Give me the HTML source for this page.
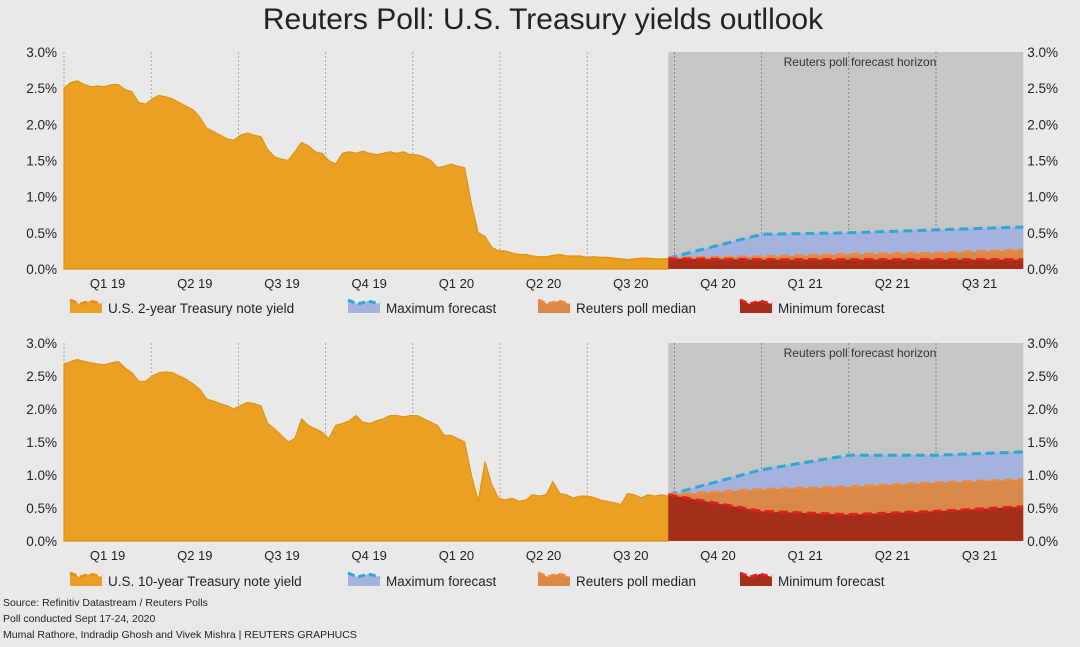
<!DOCTYPE html>
<html><head><meta charset="utf-8">
<style>
html,body{margin:0;padding:0;background:#e9e9e9;}
body{width:1080px;height:642px;overflow:hidden;font-family:"Liberation Sans",sans-serif;}
svg text{font-family:"Liberation Sans",sans-serif;}
</style></head>
<body>
<svg id="chart" width="1080" height="642" viewBox="0 0 1080 642" xmlns="http://www.w3.org/2000/svg">
<text x="543" y="29" text-anchor="middle" font-size="30" fill="#222">Reuters Poll: U.S. Treasury yields outllook</text>
<text x="3" y="606" font-size="10.5" fill="#222">Source: Refinitiv Datastream / Reuters Polls</text>
<text x="3" y="622" font-size="10.5" fill="#222">Poll conducted Sept 17-24, 2020</text>
<text x="3" y="638" font-size="10.5" fill="#222">Mumal Rathore, Indradip Ghosh and Vivek Mishra | REUTERS GRAPHUCS</text>
</svg>
<script>
const quarterLabels=["Q1 19","Q2 19","Q3 19","Q4 19","Q1 20","Q2 20","Q3 20","Q4 20","Q1 21","Q2 21","Q3 21"];
const yTicks=[0,0.5,1.0,1.5,2.0,2.5,3.0];
const twoYear=[2.5,2.58,2.6,2.55,2.52,2.53,2.52,2.55,2.55,2.48,2.45,2.3,2.28,
2.35,2.4,2.38,2.35,2.3,2.25,2.2,2.1,1.95,1.9,1.85,1.8,1.78,
1.85,1.88,1.85,1.83,1.65,1.55,1.52,1.5,1.62,1.75,1.7,1.62,1.6,
1.5,1.45,1.6,1.62,1.6,1.63,1.6,1.58,1.6,1.62,1.6,1.62,1.58,
1.58,1.55,1.5,1.4,1.42,1.45,1.42,1.4,0.9,0.5,0.45,0.3,0.25,
0.25,0.22,0.2,0.2,0.18,0.17,0.17,0.19,0.2,0.18,0.18,0.18,0.16,
0.17,0.16,0.16,0.15,0.14,0.13,0.14,0.15,0.15,0.14,0.14,0.14];
const tenYear=[2.68,2.72,2.75,2.72,2.7,2.68,2.67,2.7,2.72,2.62,2.55,2.42,2.42,
2.5,2.55,2.56,2.55,2.5,2.45,2.38,2.3,2.15,2.12,2.08,2.05,2.0,
2.05,2.1,2.08,2.05,1.78,1.7,1.6,1.5,1.55,1.85,1.75,1.7,1.65,
1.55,1.75,1.78,1.82,1.9,1.8,1.78,1.82,1.85,1.9,1.9,1.88,1.9,
1.9,1.85,1.8,1.75,1.6,1.6,1.55,1.5,1.0,0.6,1.2,0.85,0.65,
0.62,0.65,0.6,0.62,0.7,0.68,0.7,0.9,0.72,0.7,0.65,0.68,0.68,
0.66,0.62,0.6,0.58,0.55,0.72,0.7,0.65,0.7,0.68,0.7,0.68];
const forecastQ=[6.93,8,9,10,11];
const twoMax=[0.15,0.48,0.5,0.54,0.58];
const twoMed=[0.15,0.17,0.2,0.22,0.26];
const twoMin=[0.14,0.13,0.13,0.13,0.13];
const tenMax=[0.7,1.08,1.3,1.3,1.35];
const tenMed=[0.7,0.78,0.82,0.88,0.93];
const tenMin=[0.7,0.45,0.4,0.45,0.52];

const NS="http://www.w3.org/2000/svg";
const svg=document.getElementById('chart');
function mk(tag,attrs,parent){const e=document.createElementNS(NS,tag);for(const k in attrs)e.setAttribute(k,attrs[k]);(parent||svg).appendChild(e);return e;}
const X0=64,QW=87.2,HORIZON=6.93;
function xq(q){return X0+q*QW;}

function drawPanel(cfg){
  const {top,bottom,hist,fmax,fmed,fmin,label,legendY,name}=cfg;
  const y=v=>bottom-(v/3)*(bottom-top);
  const g=mk('g',{});
  
  
  const sh=mk('rect',{x:xq(HORIZON),y:top,width:xq(11)-xq(HORIZON),height:bottom-top,fill:'#c6c6c6'},g);
  
  
  const ht=mk('text',{x:860,y:top+14,'font-size':12,'text-anchor':'middle',fill:'#333'},g);
  ht.textContent='Reuters poll forecast horizon';
  
  
  for(let k=0;k<=10;k++){
    const gx=xq(k);
    const l=mk('line',{x1:gx,x2:gx,y1:top,y2:bottom,stroke:k>=7?'#777':'#999','stroke-width':0.8,'stroke-dasharray':'2,2'},g);
    
    
  }
  const n=hist.length;
  const hx=i=>xq(i*HORIZON/(n-1));
  let d=`M${hx(0)},${bottom}`;
  hist.forEach((v,i)=>{d+=` L${hx(i).toFixed(1)},${y(v).toFixed(1)}`;});
  d+=` L${hx(n-1)},${bottom} Z`;
  const ha=mk('path',{d,fill:'#e9a023',stroke:'#dd9318','stroke-width':1.2},g);
  
  
  const series=[[fmax,'#a4b3dd','#2aa8d8','maximum-forecast'],[fmed,'#d98848','#f0883a','median-forecast'],[fmin,'#a52e1b','#e31e1e','minimum-forecast']];
  series.forEach(([arr,fill,stroke,nm])=>{
    let a=`M${xq(forecastQ[0])},${bottom}`;let ln='';
    arr.forEach((v,i)=>{a+=` L${xq(forecastQ[i]).toFixed(1)},${y(v).toFixed(1)}`;ln+=(i?' L':'M')+xq(forecastQ[i]).toFixed(1)+','+y(v).toFixed(1);});
    a+=` L${xq(forecastQ[forecastQ.length-1])},${bottom} Z`;
    const ar=mk('path',{d:a,fill},g);
    
    
    const li=mk('path',{d:ln,fill:'none',stroke,'stroke-width':3,'stroke-dasharray':'9,5'},g);
    
    
  });
  yTicks.forEach(t=>{
    const a=mk('text',{x:57,y:y(t)+5,'font-size':13.5,'text-anchor':'end',fill:'#222'},g);
    a.textContent=t.toFixed(1)+'%';
    
    
    const b=mk('text',{x:1058,y:y(t)+5,'font-size':13.5,'text-anchor':'end',fill:'#222'},g);
    b.textContent=t.toFixed(1)+'%';
    
    
  });
  quarterLabels.forEach((q,k)=>{
    const t=mk('text',{x:xq(k+0.5),y:bottom+19,'font-size':13,'text-anchor':'middle',fill:'#222'},g);
    t.textContent=q;
    
    
  });
  const items=[[label,'#e9a023','#dd9318',70],['Maximum forecast','#a4b3dd','#2aa8d8',348],['Reuters poll median','#d98848','#f0883a',538],['Minimum forecast','#a52e1b','#e31e1e',740]];
  items.forEach(([txt,fill,stroke,lx])=>{
    const ly=legendY;
    const ic=mk('path',{d:`M${lx},${ly-8} L${lx+10},${ly-4} L${lx+20},${ly-7} L${lx+32},${ly-4} L${lx+32},${ly+5} L${lx},${ly+5} Z`,fill},g);
    
    
    const il=mk('path',{d:`M${lx},${ly-8} L${lx+10},${ly-4} L${lx+20},${ly-7} L${lx+32},${ly-4}`,fill:'none',stroke,'stroke-width':3,'stroke-dasharray':'7,4'},g);
    
    
    const t=mk('text',{x:lx+38,y:ly+5,'font-size':13.5,fill:'#222'},g);
    t.textContent=txt;
    
    
  });
}
drawPanel({top:52,bottom:269,hist:twoYear,fmax:twoMax,fmed:twoMed,fmin:twoMin,label:'U.S. 2-year Treasury note yield',legendY:308,name:'two-year-panel'});
drawPanel({top:343,bottom:541,hist:tenYear,fmax:tenMax,fmed:tenMed,fmin:tenMin,label:'U.S. 10-year Treasury note yield',legendY:581,name:'ten-year-panel'});
</script>
</body></html>
